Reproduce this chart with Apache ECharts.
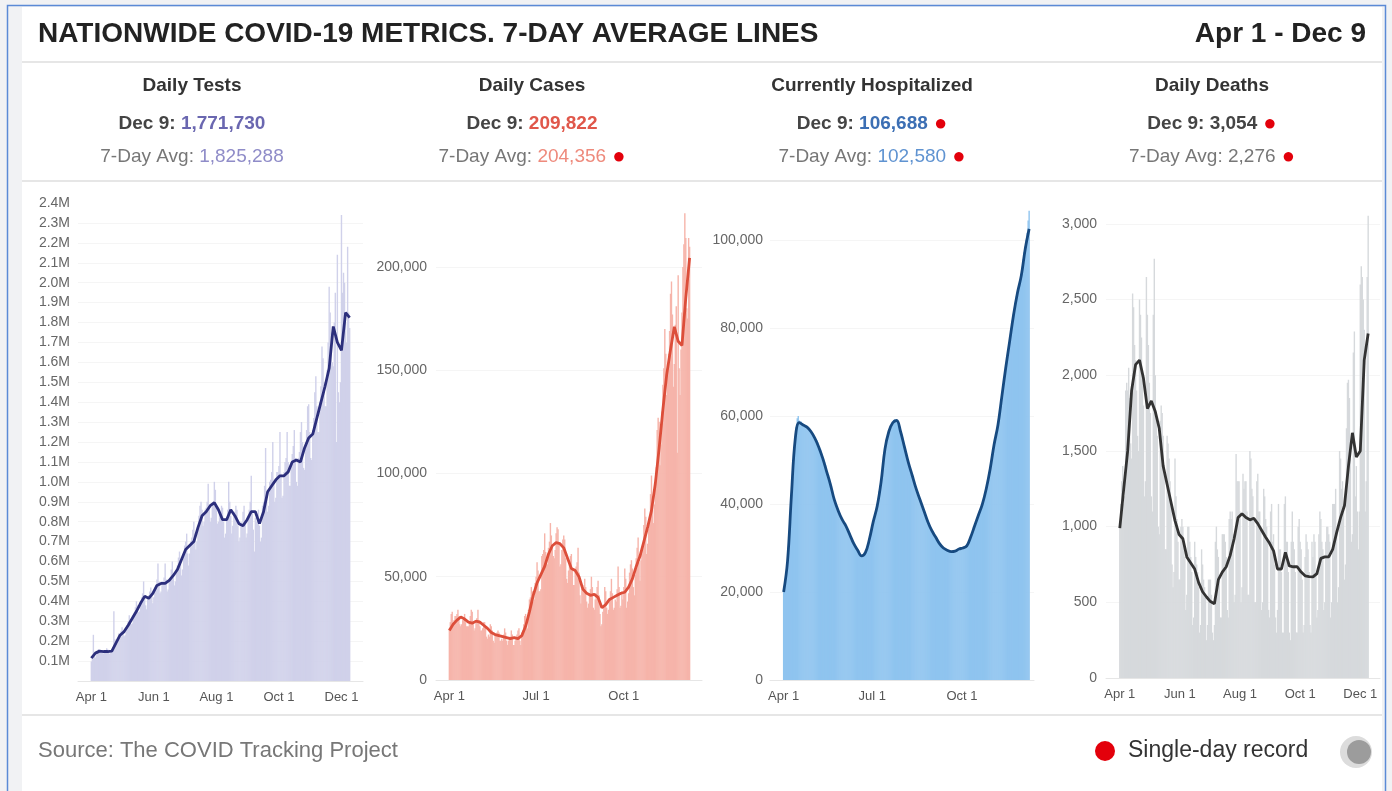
<!DOCTYPE html>
<html lang="en">
<head>
<meta charset="UTF-8">
<title>covid metrics</title>
<script src="https://cdn.jsdelivr.net/npm/echarts@6/dist/echarts.min.js"></script>
<style>
    html, body { margin: 0; padding: 0; background: #fff; }
    #chart { width: 1392px; height: 791px; }
</style>
</head>
<body>
<div id="chart"></div>
<script>
    var FONT = '"Liberation Sans", Arial, sans-serif';

    // Apr 1 .. Dec 9 2020, one entry per day
    var monthNames = ['Jan','Feb','Mar','Apr','May','Jun','Jul','Aug','Sep','Oct','Nov','Dec'];
    var dayLabels = [];
    for (var i = 0; i < 253; i++) {
        var dt = new Date(Date.UTC(2020, 3, 1 + i));
        dayLabels.push(monthNames[dt.getUTCMonth()] + ' ' + dt.getUTCDate());
    }
    var ticksLong = ['Apr 1', 'Jun 1', 'Aug 1', 'Oct 1', 'Dec 1'];
    var ticksShort = ['Apr 1', 'Jul 1', 'Oct 1'];

    // daily tests, thousands (one row per week, Wed..Tue)
    var testsDaily = [
        98, 110, 232, 125, 118, 130, 152,
        160, 150, 155, 145, 140, 138, 152,
        150, 165, 158, 142, 135, 140, 160,
        170, 350, 210, 200, 190, 205, 240,
        235, 250, 270, 245, 225, 230, 260,
        280, 300, 330, 310, 285, 290, 330,
        345, 370, 400, 380, 345, 350, 395,
        420, 440, 500, 430, 380, 360, 410,
        430, 450, 470, 440, 390, 420, 470,
        480, 510, 590, 500, 440, 450, 500,
        500, 520, 590, 510, 450, 460, 510,
        520, 560, 600, 540, 480, 500, 560,
        580, 620, 650, 600, 530, 560, 640,
        680, 700, 740, 640, 580, 640, 700,
        720, 760, 800, 740, 660, 700, 780,
        830, 880, 900, 860, 780, 800, 860,
        870, 900, 990, 880, 800, 820, 880,
        900, 1000, 960, 880, 790, 800, 850,
        830, 880, 870, 800, 720, 740, 820,
        860, 1000, 900, 830, 740, 780, 840,
        850, 880, 860, 780, 700, 720, 800,
        790, 850, 880, 800, 720, 740, 830,
        860, 900, 1030, 850, 760, 650, 820,
        800, 840, 860, 780, 700, 720, 880,
        900, 980, 1170, 950, 850, 880, 1000,
        1010, 1050, 1200, 1000, 900, 920, 1050,
        1050, 1080, 1250, 1040, 920, 930, 1050,
        1100, 1120, 1250, 1100, 980, 980, 1100,
        1140, 1180, 1260, 1120, 1000, 980, 1120,
        1150, 1250, 1300, 1200, 1070, 1060, 1200,
        1260, 1380, 1390, 1250, 1120, 1110, 1260,
        1320, 1450, 1530, 1380, 1250, 1250, 1400,
        1480, 1680, 1620, 1500, 1380, 1380, 1560,
        1700, 1980, 1850, 1750, 1600, 1580, 1800,
        1950, 1200, 2140, 1450, 1400, 1500, 2340,
        1950, 2050, 2000, 1800, 1700, 2180, 1850,
        1772
    ];
    // 7-day average, read every 4th day
    var testsAvg = [
        115, 140, 150, 148, 148, 150, 190, 230, 248, 280,
        315, 350, 390, 425, 415, 440, 480, 490, 490, 505,
        530, 560, 610, 660, 680, 700, 770, 830, 850, 880,
        895, 860, 810, 810, 860, 830, 790, 780, 810, 850,
        850, 790, 850, 950, 980, 1010, 1030, 1030, 1050, 1100,
        1110, 1100, 1170, 1220, 1240, 1320, 1400, 1480, 1570, 1780,
        1700, 1660, 1850, 1825
    ];

    var casesDaily = [
        25000, 28000, 32000, 33000, 26000, 29000, 31000,
        31000, 32000, 34000, 31000, 27000, 26000, 27000,
        29000, 30000, 32000, 28000, 26000, 26000, 26000,
        28000, 31000, 34000, 33000, 27000, 24000, 25000,
        28000, 30000, 34000, 29000, 26000, 24000, 24000,
        25000, 28000, 28000, 26000, 21000, 20000, 22000,
        21000, 27000, 26000, 24000, 19000, 18000, 22000,
        22000, 23000, 24000, 23000, 19000, 19000, 20000,
        19000, 22000, 25000, 23000, 19000, 17000, 19000,
        20000, 21000, 24000, 22000, 17000, 17000, 19000,
        21000, 22000, 24000, 25000, 19000, 17000, 23000,
        24000, 27000, 31000, 32000, 26000, 25000, 34000,
        39000, 40000, 45000, 43000, 38000, 39000, 47000,
        50000, 57000, 53000, 43000, 43000, 44000, 60000,
        61000, 63000, 71000, 62000, 59000, 56000, 64000,
        67000, 76000, 70000, 64000, 60000, 59000, 63000,
        71000, 74000, 73000, 66000, 55000, 56000, 63000,
        68000, 70000, 68000, 59000, 49000, 47000, 53000,
        56000, 60000, 61000, 54000, 46000, 46000, 54000,
        55000, 57000, 64000, 52000, 41000, 37000, 44000,
        46000, 45000, 49000, 45000, 38000, 35000, 37000,
        42000, 44000, 50000, 45000, 35000, 34000, 39000,
        42000, 45000, 48000, 41000, 32000, 26000, 27000,
        33000, 35000, 45000, 43000, 35000, 32000, 34000,
        38000, 43000, 49000, 42000, 34000, 35000, 39000,
        38000, 44000, 55000, 45000, 35000, 36000, 43000,
        39000, 45000, 54000, 49000, 35000, 38000, 42000,
        52000, 56000, 58000, 54000, 45000, 41000, 51000,
        59000, 64000, 69000, 57000, 48000, 58000, 61000,
        63000, 75000, 83000, 79000, 61000, 66000, 73000,
        79000, 90000, 99000, 86000, 76000, 85000, 93000,
        103000, 121000, 127000, 125000, 104000, 114000, 130000,
        143000, 151000, 170000, 158000, 138000, 150000, 158000,
        169000, 187000, 193000, 177000, 142000, 153000, 172000,
        181000, 110000, 196000, 151000, 138000, 160000, 178000,
        200000, 211000, 226000, 214000, 180000, 175000, 214000,
        209822
    ];
    var casesAvg = [
        24000, 27000, 29000, 30500, 29500, 28000, 27500, 28500, 28000, 26500,
        25000, 23000, 22000, 21500, 21000, 20500, 20000, 20500, 20000, 21500,
        26000, 33000, 41000, 47000, 51000, 55000, 61000, 65000, 66500, 66000,
        64000, 59000, 54000, 53000, 50000, 44000, 42000, 41000, 41500, 40000,
        35000, 36500, 39000, 40000, 41000, 42000, 42500, 45000, 49000, 55000,
        60000, 67000, 74000, 82000, 95000, 112000, 131000, 148000, 160000, 171000,
        164000, 162000, 185000, 204356
    ];

    var hospDaily = [
        20500, 21500, 23000, 24800, 27000, 30500, 34000, 38000, 42500, 46000,
        49500, 52500, 55500, 57500, 59500, 60000, 59000, 58500, 58800, 58300,
        58200, 57800, 58000, 57700, 57300, 57000, 56800, 56900, 56400, 56000,
        55800, 55500, 55200, 54700, 54500, 54000, 53200, 52800, 52400, 51500,
        50800, 50300, 49600, 48900, 47800, 47200, 46700, 45800, 44800, 44200,
        43200, 42300, 41400, 40600, 40000, 39300, 38800, 38200, 37700, 37300,
        36700, 36300, 35900, 35400, 35100, 34600, 34100, 33600, 33200, 32700,
        32100, 31600, 31200, 30800, 30400, 30000, 29700, 29300, 28900, 28500,
        28300, 28100, 28300, 28600, 29100, 29700, 30400, 31200, 32100, 33000,
        33900, 34900, 36000, 36800, 37400, 38200, 39500, 41200, 42900, 44300,
        45500, 47300, 49200, 51000, 52800, 54000, 55100, 55900, 56700, 57300,
        57900, 58400, 58700, 59100, 59300, 59200, 59000, 58600, 58000, 57400,
        56700, 56000, 55200, 54200, 53300, 52400, 51600, 50700, 49800, 49000,
        48200, 47400, 46700, 45900, 45200, 44500, 43800, 43100, 42400, 41800,
        41200, 40500, 39900, 39200, 38700, 38100, 37400, 36800, 36300, 35700,
        35200, 34700, 34300, 33900, 33500, 33100, 32700, 32300, 31900, 31500,
        31200, 30900, 30700, 30400, 30200, 30000, 29800, 29700, 29600, 29500,
        29400, 29300, 29200, 29200, 29100, 29200, 29300, 29400, 29500, 29600,
        29800, 29900, 29900, 30000, 30100, 30200, 30300, 30500, 30700, 31000,
        31500, 32000, 32600, 33200, 33800, 34400, 35100, 35700, 36300, 36900,
        37500, 38100, 38800, 39400, 40100, 40900, 41700, 42600, 43500, 44600,
        45700, 46900, 48200, 49500, 50800, 52200, 53600, 54700, 55800, 56900,
        58100, 59700, 61300, 62900, 64600, 66200, 67800, 69500, 71100, 72600,
        74200, 75700, 77200, 78700, 80200, 81800, 83300, 84700, 86000, 87300,
        88300, 89100, 90000, 91100, 92400, 94000, 95700, 97300, 98600, 100100,
        101700, 104500, 106688
    ];
    var hospAvg = [
        20000, 27000, 42000, 55000, 58500, 58000, 57500, 56500, 55000, 53000,
        50500, 47500, 44500, 41000, 38500, 36500, 35000, 33000, 31000, 29500,
        28200, 29000, 32000, 36000, 39500, 45000, 52500, 56500, 58500, 59000,
        56500, 53000, 49500, 46500, 43500, 41000, 38500, 36000, 34000, 32500,
        31000, 30000, 29500, 29200, 29300, 29800, 30000, 30500, 32500, 35000,
        37500, 40000, 43500, 48000, 53500, 58000, 64500, 71000, 77000, 83000,
        88000, 92000, 98000, 102580
    ];

    var deathsDaily = [
        1000, 1150, 1300, 1400, 1150, 1200, 1900,
        1950, 1900, 2050, 1850, 1550, 1450, 2540,
        2450, 2200, 2100, 1900, 1600, 1500, 2500,
        2400, 2250, 2000, 1800, 1200, 1300, 2650,
        2400, 2200, 1950, 1750, 1200, 1100, 2400,
        2770, 2000, 1750, 1600, 1000, 950, 1700,
        1800, 1750, 1600, 1400, 850, 850, 1600,
        1550, 1450, 1300, 1150, 750, 600, 700,
        1450, 1200, 1050, 900, 650, 650, 1000,
        1050, 1000, 900, 800, 450, 550, 1000,
        1000, 900, 800, 700, 350, 400, 900,
        800, 750, 700, 600, 300, 350, 850,
        750, 650, 600, 550, 250, 350, 650,
        650, 650, 550, 300, 250, 350, 900,
        1000, 850, 800, 650, 400, 400, 950,
        950, 950, 900, 800, 450, 400, 1050,
        1100, 1050, 1100, 950, 500, 550, 1480,
        1300, 1300, 1300, 1100, 500, 600, 1350,
        1250, 1300, 1300, 1100, 550, 550, 1500,
        1450, 1250, 1200, 1050, 500, 500, 1300,
        1350, 1100, 1100, 1000, 450, 500, 1250,
        1200, 1050, 1000, 900, 450, 400, 1100,
        1150, 900, 950, 750, 400, 300, 450,
        1150, 850, 850, 700, 300, 300, 1150,
        1200, 900, 900, 700, 300, 250, 900,
        1100, 900, 850, 700, 300, 300, 1000,
        1050, 900, 850, 650, 300, 350, 800,
        950, 900, 850, 700, 350, 300, 900,
        800, 950, 900, 700, 400, 450, 950,
        1100, 1050, 900, 850, 450, 500, 900,
        1000, 1000, 950, 900, 400, 500, 1150,
        1150, 1150, 1250, 950, 500, 600, 1500,
        1450, 1250, 1300, 1150, 650, 750, 1650,
        1950, 1970, 1850, 1450, 900, 950, 2150,
        2290, 1200, 1400, 1100, 850, 1100, 2600,
        2720, 2650, 2500, 2300, 1100, 1300, 2650,
        3054
    ];
    var deathsAvg = [
        990, 1250, 1500, 1900, 2070, 2100, 1980, 1780, 1830, 1760,
        1650, 1400, 1280, 1160, 1040, 950, 920, 800, 760, 720,
        630, 570, 535, 505, 490, 650, 700, 735, 810, 920,
        1060, 1085, 1060, 1045, 1055, 1020, 975, 930, 890, 840,
        720, 720, 830, 740, 735, 735, 700, 675, 670, 668,
        690, 790, 800, 800, 850, 960, 1060, 1140, 1400, 1620,
        1460, 1500, 2100, 2276
    ];

    var headerNames = ['Daily Tests', 'Daily Cases', 'Currently Hospitalized', 'Daily Deaths'];
    var todayValues = ['1,771,730', '209,822', '106,688', '3,054'];
    var avgValues = ['1,825,288', '204,356', '102,580', '2,276'];
    var todayRecord = [false, false, true, true];
    var avgRecord = [false, true, true, true];

    function barPairs(arr) {
        return arr.map(function (v, i) { return [i, v]; });
    }
    function avgPairs(arr) {
        return arr.map(function (v, k) { return [k * 4, v]; });
    }
    function fmtComma(step) {
        return function (v) { return v % step ? '' : v.toLocaleString('en-US'); };
    }

    var panels = [
        { left: 78, top: 203, width: 285, height: 478, xmin: -13, xmax: 265, ymax: 2400, step: 100,
          ticks: ticksLong, daily: testsDaily, avg: testsAvg, bar: '#d0d1ea', line: '#2c2f7c', margin: 8,
          fmt: function (v) { return v === 0 ? '' : (v / 1000).toFixed(1) + 'M'; } },
        { left: 436, top: 205, width: 266, height: 475, xmin: -14, xmax: 265, ymax: 230000, step: 50000,
          ticks: ticksShort, daily: casesDaily, avg: casesAvg, bar: '#f6b4aa', line: '#dc4e3a', margin: 9,
          fmt: fmtComma(50000) },
        { left: 770, top: 205, width: 264, height: 475, xmin: -14, xmax: 257, ymax: 108000, step: 20000,
          ticks: ticksShort, daily: hospDaily, avg: hospAvg, bar: '#8fc4ef', line: '#174a80', margin: 7,
          fmt: fmtComma(20000) },
        { left: 1106, top: 205, width: 274, height: 473, xmin: -14, xmax: 264, ymax: 3125, step: 500,
          ticks: ticksLong, daily: deathsDaily, avg: deathsAvg, bar: '#d6d9dc', line: '#333333', margin: 9,
          fmt: fmtComma(500) }
    ];

    var grids = [], xAxes = [], yAxes = [], series = [];
    panels.forEach(function (p, i) {
        grids.push({ left: p.left, top: p.top, width: p.width, height: p.height });
        xAxes.push({
            type: 'value', gridIndex: i, min: p.xmin, max: p.xmax,
            axisLine: { show: true, lineStyle: { color: '#e6e6e6', width: 1 } },
            axisTick: { show: false },
            splitLine: { show: false },
            axisLabel: {
                customValues: p.ticks.map(function (t) { return dayLabels.indexOf(t); }),
                formatter: function (v) { return dayLabels[v] || ''; },
                color: '#555', fontSize: 13, fontFamily: FONT, margin: 10
            }
        });
        yAxes.push({
            type: 'value', gridIndex: i, min: 0, max: p.ymax, interval: p.step,
            axisLine: { show: false },
            axisTick: { show: false },
            splitLine: { show: true, showMaxLine: false, lineStyle: { color: '#f5f5f5', width: 1 } },
            axisLabel: { formatter: p.fmt, color: '#666', fontSize: 14, fontFamily: FONT, margin: p.margin }
        });
        series.push({
            type: 'bar', xAxisIndex: i, yAxisIndex: i, data: barPairs(p.daily),
            barWidth: 1.4, itemStyle: { color: p.bar }, silent: true
        });
        series.push({
            type: 'line', xAxisIndex: i, yAxisIndex: i, data: avgPairs(p.avg),
            showSymbol: false, symbol: 'none', smooth: i === 2 ? 0.4 : false,
            lineStyle: { color: p.line, width: 2.8 }, z: 3, silent: true
        });
    });

    function txt(x, y, text, size, weight, color, align) {
        return { type: 'text', x: x, y: y, silent: true,
                 style: { text: text, fontSize: size, fontWeight: weight, fontFamily: FONT,
                          fill: color, align: align || 'left', verticalAlign: 'middle' } };
    }
    function tok(size, weight, color) {
        return { fontSize: size, fontWeight: weight, fontFamily: FONT, fill: color, color: color };
    }

    var numColors = [['#6a67b0', '#8f8cc8'], ['#e0574a', '#ee8a7c'], ['#3c6fb4', '#5f93d1'], ['#444444', '#777777']];
    var centers = [192, 532, 872, 1212];

    var graphics = [
        { type: 'rect', shape: { x: 0, y: 0, width: 22, height: 791 }, style: { fill: '#f1f2f4' }, silent: true },
        { type: 'rect', shape: { x: 0, y: 0, width: 1392, height: 7 }, style: { fill: '#f1f2f4' }, silent: true },
        { type: 'rect', shape: { x: 1382, y: 0, width: 10, height: 791 }, style: { fill: '#f1f2f4' }, silent: true },
        { type: 'rect', shape: { x: 7.5, y: 5.5, width: 1378, height: 800 }, style: { fill: 'none', stroke: '#5b8ad6', lineWidth: 1.5 }, silent: true },
        { type: 'line', shape: { x1: 22, y1: 62, x2: 1382, y2: 62 }, style: { stroke: '#dedede', lineWidth: 1.5 }, silent: true },
        { type: 'line', shape: { x1: 22, y1: 181, x2: 1382, y2: 181 }, style: { stroke: '#dedede', lineWidth: 1.5 }, silent: true },
        { type: 'line', shape: { x1: 22, y1: 715, x2: 1382, y2: 715 }, style: { stroke: '#dedede', lineWidth: 1.5 }, silent: true },
        txt(38, 34, 'NATIONWIDE COVID-19 METRICS. 7-DAY AVERAGE LINES', 28, 'bold', '#222'),
        txt(1366, 34, 'Apr 1 - Dec 9', 28, 'bold', '#222', 'right'),
        txt(38, 751, 'Source: The COVID Tracking Project', 22, 'normal', '#777'),
        { type: 'circle', shape: { cx: 1105, cy: 751, r: 10 }, style: { fill: '#e3000b' }, silent: true },
        txt(1128, 751, 'Single-day record', 23, 'normal', '#333'),
        { type: 'circle', shape: { cx: 1356, cy: 752, r: 16 }, style: { fill: '#dcdcdc' }, silent: true },
        { type: 'circle', shape: { cx: 1359, cy: 752, r: 12 }, style: { fill: '#9c9c9c' }, silent: true }
    ];

    headerNames.forEach(function (name, i) {
        var cx = centers[i];
        graphics.push(txt(cx, 86, name, 19, 'bold', '#333', 'center'));
        var t2 = '{l|Dec 9: }{v|' + todayValues[i] + '}' + (todayRecord[i] ? '{d| ●}' : '');
        var t3 = '{l|7-Day Avg: }{v|' + avgValues[i] + '}' + (avgRecord[i] ? '{d| ●}' : '');
        graphics.push({ type: 'text', x: cx, y: 124, silent: true,
            style: { text: t2, align: 'center', verticalAlign: 'middle', fontFamily: FONT, fontSize: 19,
                     rich: { l: tok(19, 'bold', '#444'), v: tok(19, 'bold', numColors[i][0]), d: tok(22, 'normal', '#e3000b') } } });
        graphics.push({ type: 'text', x: cx, y: 157, silent: true,
            style: { text: t3, align: 'center', verticalAlign: 'middle', fontFamily: FONT, fontSize: 19,
                     rich: { l: tok(19, 'normal', '#777'), v: tok(19, 'normal', numColors[i][1]), d: tok(22, 'normal', '#e3000b') } } });
    });

    var option = {
        backgroundColor: '#ffffff',
        animation: false,
        textStyle: { fontFamily: FONT },
        grid: grids,
        xAxis: xAxes,
        yAxis: yAxes,
        series: series,
        graphic: graphics
    };

    var chart = echarts.init(document.getElementById('chart'));
    chart.setOption(option);
</script>
</body>
</html>
